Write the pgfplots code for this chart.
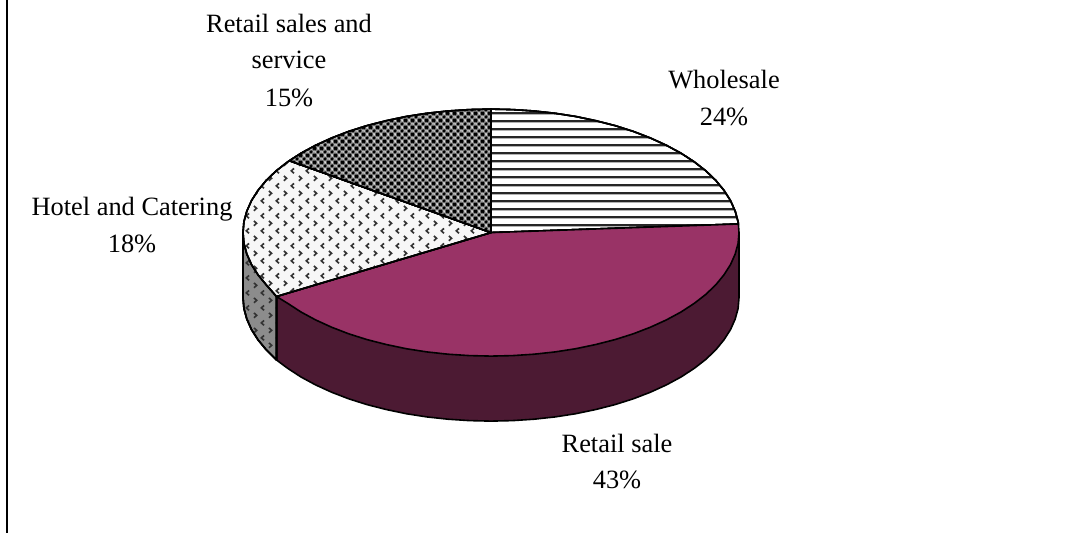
\documentclass[border=0pt]{standalone}
\usepackage{fontspec}
\setmainfont{Liberation Serif}
\usepackage{pgfplots}
\pgfplotsset{compat=1.18}
\usetikzlibrary{patterns}

\definecolor{retailtop}{HTML}{993366}
\definecolor{retailside}{HTML}{4C1A33}
\definecolor{hotelside}{HTML}{8C8C8C}

% Horizontal rules for the wholesale slice
\pgfdeclarepatternformonly{wholesalerules}{\pgfqpoint{0pt}{0pt}}{\pgfqpoint{8pt}{7.8pt}}{\pgfqpoint{8pt}{7.8pt}}{
  \pgfsetlinewidth{2.3pt}
  \pgfpathmoveto{\pgfqpoint{-1pt}{3.9pt}}
  \pgfpathlineto{\pgfqpoint{9pt}{3.9pt}}
  \pgfusepath{stroke}
}
% Scattered chevrons for the hotel and catering slice
\pgfdeclarepatternformonly{hotelchevrons}{\pgfqpoint{0pt}{0pt}}{\pgfqpoint{15.3pt}{15.4pt}}{\pgfqpoint{15.3pt}{15.4pt}}{
  \pgfsetlinewidth{1.7pt}
  \pgfpathmoveto{\pgfqpoint{5.2pt}{14pt}}
  \pgfpathlineto{\pgfqpoint{2.4pt}{11.5pt}}
  \pgfpathlineto{\pgfqpoint{5.2pt}{9pt}}
  \pgfpathmoveto{\pgfqpoint{10.3pt}{6.3pt}}
  \pgfpathlineto{\pgfqpoint{13.1pt}{3.8pt}}
  \pgfpathlineto{\pgfqpoint{10.3pt}{1.3pt}}
  \pgfusepath{stroke}
}
% Dense lattice of diamonds for the retail sales and service slice
\pgfdeclarepatterninherentlycolored{servicelattice}{\pgfqpoint{0pt}{0pt}}{\pgfqpoint{7pt}{7pt}}{\pgfqpoint{7pt}{7pt}}{
  \pgfsetfillcolor{black}
  \pgfpathmoveto{\pgfqpoint{3.5pt}{1.6pt}}
  \pgfpathlineto{\pgfqpoint{5.4pt}{3.5pt}}
  \pgfpathlineto{\pgfqpoint{3.5pt}{5.4pt}}
  \pgfpathlineto{\pgfqpoint{1.6pt}{3.5pt}}
  \pgfpathclose
  \pgfpathmoveto{\pgfqpoint{0pt}{-1.9pt}}
  \pgfpathlineto{\pgfqpoint{1.9pt}{0pt}}
  \pgfpathlineto{\pgfqpoint{0pt}{1.9pt}}
  \pgfpathlineto{\pgfqpoint{-1.9pt}{0pt}}
  \pgfpathclose
  \pgfpathmoveto{\pgfqpoint{7pt}{-1.9pt}}
  \pgfpathlineto{\pgfqpoint{8.9pt}{0pt}}
  \pgfpathlineto{\pgfqpoint{7pt}{1.9pt}}
  \pgfpathlineto{\pgfqpoint{5.1pt}{0pt}}
  \pgfpathclose
  \pgfpathmoveto{\pgfqpoint{0pt}{5.1pt}}
  \pgfpathlineto{\pgfqpoint{1.9pt}{7pt}}
  \pgfpathlineto{\pgfqpoint{0pt}{8.9pt}}
  \pgfpathlineto{\pgfqpoint{-1.9pt}{7pt}}
  \pgfpathclose
  \pgfpathmoveto{\pgfqpoint{7pt}{5.1pt}}
  \pgfpathlineto{\pgfqpoint{8.9pt}{7pt}}
  \pgfpathlineto{\pgfqpoint{7pt}{8.9pt}}
  \pgfpathlineto{\pgfqpoint{5.1pt}{7pt}}
  \pgfpathclose
  \pgfusepath{fill}
  \pgfsetfillcolor{white}
  \pgfpathcircle{\pgfqpoint{3.5pt}{0pt}}{1pt}
  \pgfpathcircle{\pgfqpoint{3.5pt}{7pt}}{1pt}
  \pgfpathcircle{\pgfqpoint{0pt}{3.5pt}}{1pt}
  \pgfpathcircle{\pgfqpoint{7pt}{3.5pt}}{1pt}
  \pgfusepath{fill}
}

\pgfplotsset{
  slice edge/.style={draw=black, line width=1.6pt, mark=none, line join=round},
}
\newcommand{\labeltext}[3]{\node[anchor=base, inner sep=0pt] at (axis cs:#1,#2) {#3};}

\begin{document}
\begin{tikzpicture}[font=\fontsize{26.4}{30}\selectfont]
\useasboundingbox (0,0) rectangle (1092pt,533pt);
\begin{axis}[
  at={(0,0)}, anchor=south west,
  scale only axis, width=1092pt, height=533pt,
  xmin=0, xmax=1092, ymin=0, ymax=533, y dir=reverse,
  hide axis,
]
% frame rule on the left
\addplot[black, line width=2.2pt, mark=none] coordinates {(7,0) (7,533)};

% rim of the retail sale slice
\addplot[slice edge, fill=retailside] coordinates {
 (739,232.6) (739,297.6) (738.1,308.4) (735.2,319) (730.5,329.6) (724,339.8) (715.8,349.8)
 (705.8,359.4) (694.2,368.4) (681,377) (666.4,384.9) (650.4,392.2) (633.3,398.8)
 (615,404.6) (595.8,409.5) (575.8,413.7) (555.2,416.9) (534.1,419.2) (512.6,420.6)
 (491,421.1) (469.4,420.6) (447.9,419.2) (426.8,416.9) (406.2,413.7) (386.2,409.5)
 (367,404.6) (348.7,398.8) (331.6,392.2) (315.6,384.9) (301,377) (287.8,368.4)
 (276.5,360) (276.5,296.5)
} -- cycle;

% rim of the hotel and catering slice
\addplot[slice edge, preaction={fill=hotelside}, preaction={pattern=hotelchevrons, pattern color=black!80}] coordinates {
 (243,232.6) (243,297.6) (243.9,308.4) (246.8,319) (251.5,329.6) (258,339.8) (266.2,349.8)
 (276.5,360) (276.5,296.5)
} -- cycle;

% top face: wholesale
\addplot[slice edge, preaction={fill=white}, preaction={pattern=wholesalerules, pattern color=black!85}] coordinates {
 (491,232.6) (491,109.1) (512.6,109.6) (534.1,111) (555.2,113.3) (575.8,116.5) (595.8,120.7)
 (615,125.6) (633.3,131.4) (650.4,138) (666.4,145.3) (681,153.2) (694.2,161.8)
 (705.8,170.8) (715.8,180.4) (724,190.4) (730.5,200.6) (735.2,211.2) (738.1,221.8)
 (738.4,224)
} -- cycle;

% top face: retail sale
\addplot[slice edge, fill=retailtop] coordinates {
 (491,232.6) (738.4,224) (739,232.6) (738.1,243.4) (735.2,254) (730.5,264.6) (724,274.8)
 (715.8,284.8) (705.8,294.4) (694.2,303.4) (681,312) (666.4,319.9) (650.4,327.2)
 (633.3,333.8) (615,339.6) (595.8,344.5) (575.8,348.7) (555.2,351.9) (534.1,354.2)
 (512.6,355.6) (491,356.1) (469.4,355.6) (447.9,354.2) (426.8,351.9) (406.2,348.7)
 (386.2,344.5) (367,339.6) (348.7,333.8) (331.6,327.2) (315.6,319.9) (301,312)
 (287.8,303.4) (276.5,296.5)
} -- cycle;

% top face: hotel and catering
\addplot[slice edge, preaction={fill=black!3}, preaction={pattern=hotelchevrons, pattern color=black!80}] coordinates {
 (491,232.6) (276.5,296.5) (266.2,284.8) (258,274.8) (251.5,264.6) (246.8,254) (243.9,243.4)
 (243,232.6) (243.9,221.8) (246.8,211.2) (251.5,200.6) (258,190.4) (266.2,180.4)
 (276.2,170.8) (287.8,161.8) (289.4,160.7)
} -- cycle;

% top face: retail sales and service
\addplot[slice edge, preaction={fill=black!50}, preaction={pattern=servicelattice}] coordinates {
 (491,232.6) (289.4,160.7) (301,153.2) (315.6,145.3) (331.6,138) (348.7,131.4) (367,125.6)
 (386.2,120.7) (406.2,116.5) (426.8,113.3) (447.9,111) (469.4,109.6) (491,109.1)
} -- cycle;

% slice labels
\labeltext{289}{32}{Retail sales and}
\labeltext{289}{68}{service}
\labeltext{289}{106}{15\%}
\labeltext{724}{88}{Wholesale}
\labeltext{724}{125}{24\%}
\labeltext{132}{215}{Hotel and Catering}
\labeltext{132}{252}{18\%}
\labeltext{617}{452}{Retail sale}
\labeltext{617}{488}{43\%}
\end{axis}
\end{tikzpicture}
\end{document}
